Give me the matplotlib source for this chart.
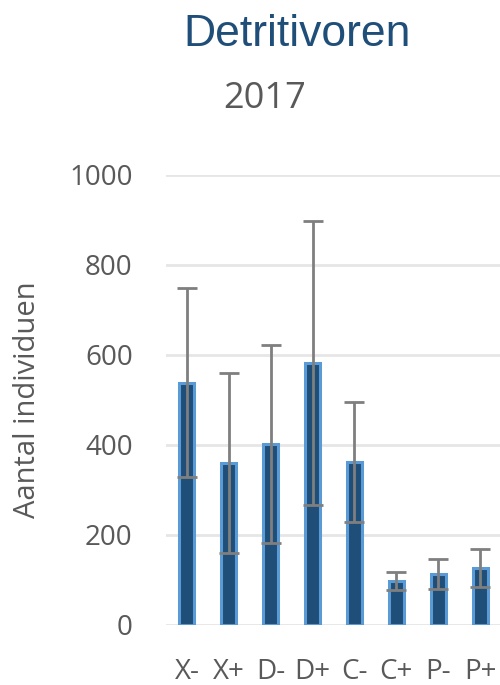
import matplotlib.pyplot as plt

groepen = ["X-", "X+", "D-", "D+", "C-", "C+", "P-", "P+"]
gemiddeld = [538, 360, 402, 582, 362, 98, 113, 127]
fout = [210, 200, 220, 315, 133, 20, 33, 42]
yticks = [0, 200, 400, 600, 800, 1000]

fig = plt.figure(figsize=(5, 6.85), dpi=100)
ax = fig.add_axes([0.332, 0.0876, 0.670, 0.657])

x = range(len(groepen))
ax.bar(x, gemiddeld, width=0.36, color="#1f4e79", edgecolor="#5b9bd5", linewidth=2.2, zorder=2)
ax.errorbar(x, gemiddeld, yerr=fout, fmt="none", ecolor="#7f7f7f", elinewidth=2,
            capsize=7, capthick=2, zorder=3)

ax.set_xlim(-0.5, 7.5)
ax.set_ylim(0, 1000)
ax.set_yticks(yticks)
ax.set_xticks(list(x))
ax.set_xticklabels(groepen)
ax.grid(axis="y", color="#e6e6e6", linewidth=2, zorder=0)
ax.set_axisbelow(True)
for s in ax.spines.values():
    s.set_visible(False)
ax.tick_params(length=0, labelsize=20, labelcolor="#595959")
ax.tick_params(axis="y", pad=24)
ax.tick_params(axis="x", pad=24)
for lab in ax.get_xticklabels() + ax.get_yticklabels():
    lab.set_fontfamily("Open Sans")

ax.set_ylabel("Aantal individuen", fontsize=21, color="#595959", family="Open Sans")
ax.yaxis.set_label_coords(-0.37, 0.5)

fig.text(0.594, 0.949, "Detritivoren", fontsize=32, color="#1f4e79",
         family="Liberation Sans", ha="center", va="center")
fig.text(0.53, 0.855, "2017", fontsize=26, color="#595959",
         family="Open Sans", ha="center", va="center")

fig.savefig("out.png", dpi=100)
